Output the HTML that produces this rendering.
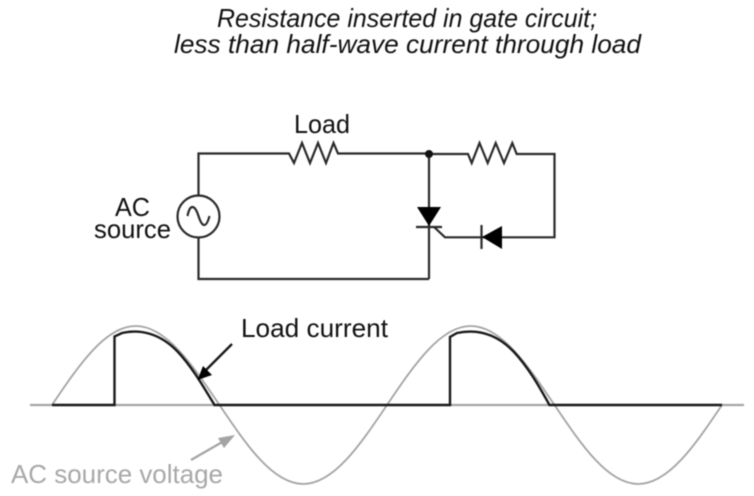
<!DOCTYPE html>
<html><head><meta charset="utf-8"><style>
html,body{margin:0;padding:0;background:#fff}
svg{display:block;filter:blur(0.45px)}
text{font-family:"Liberation Sans",sans-serif}
</style></head><body>
<svg width="754" height="496" viewBox="0 0 754 496" xmlns="http://www.w3.org/2000/svg">
<rect width="754" height="496" fill="#fff"/>
<g font-style="italic" font-size="26" fill="#111">
<text x="217" y="27" textLength="380" lengthAdjust="spacingAndGlyphs">Resistance inserted in gate circuit;</text>
<text x="174" y="53" textLength="467" lengthAdjust="spacingAndGlyphs">less than half-wave current through load</text>
</g>
<g fill="none" stroke="#2a2a2a" stroke-width="2.200">
<path d="M198.500 195V153.500H289L294 163L302 143L310 163L318 143L326 163L333.500 143L338 153.500H429"/>
<path d="M198.500 237V279H429"/>
<path d="M429 154H468L471.700 163L479.500 143L487.700 163L495.700 143L504 163L512.300 143L516.700 154H554.500V237.300H445L434 227"/>
<path d="M429 154V279"/>
<path d="M416 227H442"/>
<path d="M481.500 225V249"/>
<circle cx="198.500" cy="216.500" r="21"/>
<path d="M187.500 216C190 203 195 205 198.500 216S206 229 209.500 216"/>
</g>
<circle cx="429" cy="154" r="4" fill="#111"/>
<polygon points="417,207 441,207 429,226" fill="#000"/>
<polygon points="482,237 502,226 502,249" fill="#000"/>
<g fill="#111" font-size="26">
<text x="294" y="133" textLength="56" lengthAdjust="spacingAndGlyphs">Load</text>
<text x="115" y="216" textLength="35" lengthAdjust="spacingAndGlyphs">AC</text>
<text x="94" y="238" textLength="77" lengthAdjust="spacingAndGlyphs">source</text>
<text x="241" y="337" textLength="147" lengthAdjust="spacingAndGlyphs">Load current</text>
</g>
<path d="M30 405H744" stroke="#a4a4a4" stroke-width="2.200" fill="none"/>
<path d="M52 405C79.310 364.530 105.440 326 135.750 326C166.060 326 192.190 364.530 219.500 405C246.810 445.470 272.940 484 303.250 484C333.560 484 359.690 445.470 387 405C414.310 364.530 440.440 326 470.750 326C501.060 326 527.190 364.530 554.500 405C581.810 445.470 607.940 484 638.250 484C668.560 484 694.690 445.470 722 405" fill="none" stroke="#a4a4a4" stroke-width="1.800"/>
<g fill="none" stroke="#1a1a1a" stroke-width="2.400">
<path d="M52 405H114.500V336.500L122 333C140 329 160 333 178 352C192 367 203 386 214.500 405H450V337L457 333C476 329 496 333 514 352C528 367 539 386 549.500 405H722"/>
<path d="M232 344L205 371"/>
</g>
<polygon points="197.500,380 203,366 212,375" fill="#000"/>
<path d="M191 460L224 441" stroke="#a4a4a4" stroke-width="2.200" fill="none"/>
<polygon points="235,435 218,438 224,448" fill="#a4a4a4"/>
<text x="11" y="483" font-size="26" fill="#a8a8a8" textLength="212" lengthAdjust="spacingAndGlyphs">AC source voltage</text>
</svg>
</body></html>
